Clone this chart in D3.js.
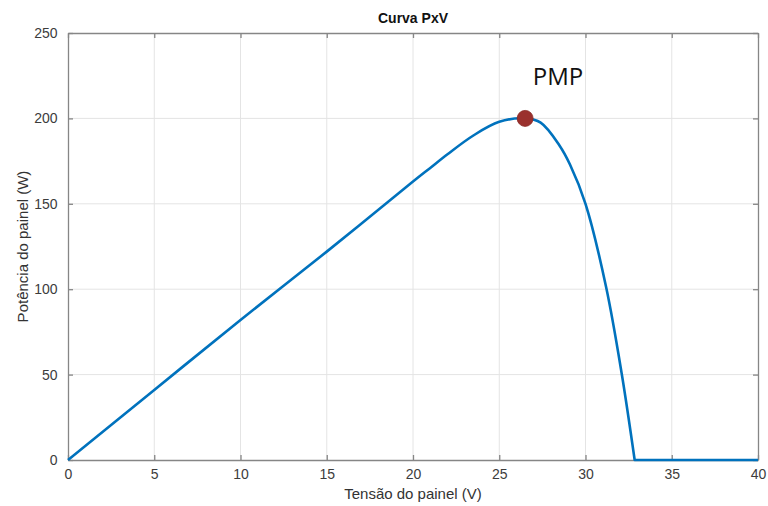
<!DOCTYPE html>
<html>
<head>
<meta charset="utf-8">
<script src="https://cdn.jsdelivr.net/npm/d3@7"></script>
<style>
  body { margin: 0; background: #fff; }
  svg { display: block; }
</style>
</head>
<body>
<div id="chart"></div>
<script>
// curve
var tensao = [0, 5, 10, 15, 20, 21, 22, 23.5, 25, 26.5, 27.4, 28.5, 29.1, 30, 31.2, 32.1, 32.85, 40];
var potencia = [0, 41, 82, 122, 163, 171, 179, 190, 198, 200, 197.5, 184, 173, 150, 101, 50.5, 0, 0];

var pmp = [26.5, 200];

var xTicks = [0, 5, 10, 15, 20, 25, 30, 35, 40];
var yTicks = [0, 50, 100, 150, 200, 250];

var width = 768,
    height = 506,
    plotLeft = 68,
    plotRight = 758,
    plotTop = 33,
    plotBottom = 460;

var axisColor = '#868686';
var font = 'Liberation Sans, Arial, sans-serif';

var x = d3.scaleLinear().domain([0, 40]).range([plotLeft, plotRight]);
var y = d3.scaleLinear().domain([0, 250]).range([plotBottom, plotTop]);

var svg = d3.select('#chart').append('svg')
  .attr('width', width)
  .attr('height', height);

// grid
svg.append('g').selectAll('line').data(xTicks.slice(1, -1))
  .enter().append('line')
    .attr('x1', function(d) { return x(d); })
    .attr('x2', function(d) { return x(d); })
    .attr('y1', plotTop).attr('y2', plotBottom)
    .attr('stroke', '#e4e4e4').attr('stroke-width', 1);

svg.append('g').selectAll('line').data(yTicks.slice(1, -1))
  .enter().append('line')
    .attr('y1', function(d) { return y(d); })
    .attr('y2', function(d) { return y(d); })
    .attr('x1', plotLeft).attr('x2', plotRight)
    .attr('stroke', '#e4e4e4').attr('stroke-width', 1);

// axes (MATLAB style, ticks inward, box on)
var xAxis = d3.axisBottom(x).tickValues(xTicks).tickSizeInner(-5).tickSizeOuter(0).tickPadding(9);
var yAxis = d3.axisLeft(y).tickValues(yTicks).tickSizeInner(-5).tickSizeOuter(0).tickPadding(9);
var xTop = d3.axisTop(x).tickValues(xTicks).tickSizeInner(-5).tickSizeOuter(0).tickFormat('');
var yRight = d3.axisRight(y).tickValues(yTicks).tickSizeInner(-5).tickSizeOuter(0).tickFormat('');

var gx = svg.append('g').attr('transform', 'translate(0,' + plotBottom + ')').call(xAxis);
var gy = svg.append('g').attr('transform', 'translate(' + plotLeft + ',0)').call(yAxis);
var gt = svg.append('g').attr('transform', 'translate(0,' + plotTop + ')').call(xTop);
var gr = svg.append('g').attr('transform', 'translate(' + plotRight + ',0)').call(yRight);

[gx, gy, gt, gr].forEach(function(g) {
  g.selectAll('path').attr('stroke', axisColor).attr('stroke-width', 1.3);
  g.selectAll('line').attr('stroke', axisColor).attr('stroke-width', 1.3);
  g.selectAll('text')
    .attr('fill', '#3c3c3c')
    .style('font-family', font)
    .style('font-size', '14px');
});
gx.selectAll('text').attr('dy', '0.71em');
gy.selectAll('text').attr('dx', '-0.1em');

// curve: smooth part up to the open-circuit point, then flat at zero
var pts = d3.zip(tensao, potencia);
var cut = potencia.indexOf(0, 1);

var smooth = d3.line()
  .x(function(d) { return x(d[0]); })
  .y(function(d) { return y(d[1]); })
  .curve(d3.curveCatmullRom.alpha(0.5));

var straight = d3.line()
  .x(function(d) { return x(d[0]); })
  .y(function(d) { return y(d[1]); });

svg.append('path')
  .attr('fill', 'none')
  .attr('stroke', '#0072BD')
  .attr('stroke-width', 2.6)
  .attr('stroke-linejoin', 'round')
  .attr('d', smooth(pts.slice(0, cut + 1)) + straight(pts.slice(cut)).replace('M', 'L'));

// PMP marker
svg.append('circle')
  .attr('cx', x(pmp[0]))
  .attr('cy', y(pmp[1]))
  .attr('r', 8)
  .attr('fill', '#9a302d')
  .attr('stroke', '#8a2825')
  .attr('stroke-width', 0.8);

svg.append('text')
  .attr('x', 558)
  .attr('y', 85)
  .attr('text-anchor', 'middle')
  .style('font-family', 'Open Sans, sans-serif')
  .style('font-size', '24px')
  .attr('fill', '#111')
  .text('PMP');

// title and labels
svg.append('text')
  .attr('x', (plotLeft + plotRight) / 2)
  .attr('y', 23)
  .attr('text-anchor', 'middle')
  .style('font-family', font)
  .style('font-size', '14px')
  .style('font-weight', 'bold')
  .attr('fill', '#111')
  .text('Curva PxV');

svg.append('text')
  .attr('x', (plotLeft + plotRight) / 2)
  .attr('y', 499)
  .attr('text-anchor', 'middle')
  .style('font-family', font)
  .style('font-size', '15px')
  .attr('fill', '#333')
  .text('Tensão do painel (V)');

svg.append('text')
  .attr('transform', 'translate(28,' + ((plotTop + plotBottom) / 2) + ') rotate(-90)')
  .attr('text-anchor', 'middle')
  .style('font-family', font)
  .style('font-size', '15px')
  .attr('fill', '#333')
  .text('Potência do painel (W)');
</script>
</body>
</html>
